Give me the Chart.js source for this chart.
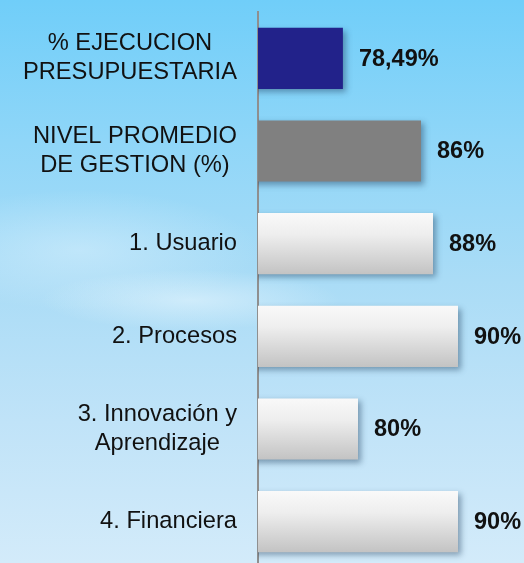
<!DOCTYPE html>
<html>
<head>
<meta charset="utf-8">
<script src="https://cdn.jsdelivr.net/npm/chart.js@4/dist/chart.umd.min.js"></script>
<style>
  html, body { margin: 0; padding: 0; overflow: hidden; }
  #wrap {
    position: relative;
    width: 524px;
    height: 563px;
    overflow: hidden;
    background:
      radial-gradient(ellipse 150px 30px at 190px 300px, rgba(235,248,255,0.55), rgba(235,248,255,0) 100%),
      radial-gradient(ellipse 180px 60px at 80px 250px, rgba(225,244,255,0.45), rgba(225,244,255,0) 100%),
      linear-gradient(180deg, #70cef9 0%, #8fd6f8 25%, #aadcf6 50%, #c0e3f8 75%, #d3ebfa 100%);
  }
  canvas { display: block; }
</style>
</head>
<body>
<div id="wrap">
  <canvas id="myChart" width="524" height="568"></canvas>
</div>
<script>
// categories, top to bottom
const categories = [
  ["% EJECUCION", "PRESUPUESTARIA"],
  ["NIVEL PROMEDIO", "DE GESTION (%)"],
  ["1. Usuario"],
  ["2. Procesos"],
  ["3. Innovación y", "Aprendizaje"],
  ["4. Financiera"]
];
// bar lengths
const values = [78.49, 86.3, 87.5, 90, 80, 90];
// printed value labels
const valueLabels = ["78,49%", "86%", "88%", "90%", "80%", "90%"];

const axisMin = 70;
const axisMax = 96.6;

function barFill(context) {
  const i = context.dataIndex;
  if (i === 0) return "#22228a";
  if (i === 1) return "#808080";
  const chart = context.chart;
  const y = chart.scales && chart.scales.y;
  if (!chart.chartArea || !y) return "#e6e6e6";
  const center = y.getPixelForValue(i);
  const half = (y.height / categories.length) * 0.66 / 2;
  const g = chart.ctx.createLinearGradient(0, center - half, 0, center + half);
  g.addColorStop(0, "#f9f9f9");
  g.addColorStop(0.35, "#eeeeee");
  g.addColorStop(1, "#c3c3c3");
  return g;
}

// soft drop shadow under the bars
const barShadow = {
  id: "barShadow",
  beforeDatasetsDraw(chart) {
    const ctx = chart.ctx;
    ctx.save();
    ctx.shadowColor = "rgba(30, 60, 90, 0.45)";
    ctx.shadowBlur = 6;
    ctx.shadowOffsetX = 3;
    ctx.shadowOffsetY = 3;
  },
  afterDatasetsDraw(chart) {
    chart.ctx.restore();
  }
};

// value labels at the end of each bar
const valueText = {
  id: "valueText",
  afterDatasetsDraw(chart) {
    const ctx = chart.ctx;
    const meta = chart.getDatasetMeta(0);
    ctx.save();
    ctx.font = "bold 23.5px 'Liberation Sans', Arial, sans-serif";
    ctx.fillStyle = "#111111";
    ctx.textAlign = "left";
    ctx.textBaseline = "middle";
    meta.data.forEach((bar, i) => {
      ctx.fillText(valueLabels[i], bar.x + 16, bar.y + 1);
    });
    ctx.restore();
  }
};

// category labels: block right-aligned, lines centered within the block
const categoryText = {
  id: "categoryText",
  afterDraw(chart) {
    const ctx = chart.ctx;
    const y = chart.scales.y;
    const right = chart.chartArea.left - 21;
    const lineH = 29;
    ctx.save();
    ctx.font = "23.7px 'Liberation Sans', Arial, sans-serif";
    ctx.fillStyle = "#111111";
    ctx.textAlign = "center";
    ctx.textBaseline = "middle";
    categories.forEach((lines, i) => {
      const w = Math.max(...lines.map(l => ctx.measureText(l).width));
      const cx = right - w / 2;
      const cy = y.getPixelForValue(i);
      const top = cy - (lines.length - 1) * lineH / 2;
      lines.forEach((l, k) => ctx.fillText(l, cx, top + k * lineH));
    });
    ctx.restore();
  }
};

const data = {
  labels: categories,
  datasets: [{
    data: values,
    backgroundColor: barFill,
    borderWidth: 0,
    categoryPercentage: 1,
    barPercentage: 0.66
  }]
};

const config = {
  type: "bar",
  data: data,
  options: {
    indexAxis: "y",
    responsive: false,
    animation: false,
    layout: {
      padding: { left: 258, top: 12, right: 0, bottom: 0 }
    },
    plugins: {
      legend: { display: false },
      tooltip: { enabled: false }
    },
    scales: {
      x: {
        display: false,
        min: axisMin,
        max: axisMax
      },
      y: {
        display: true,
        grid: { display: false, drawTicks: false },
        border: { display: true, color: "#8f8f8f", width: 2 },
        ticks: { display: false }
      }
    }
  },
  plugins: [barShadow, valueText, categoryText]
};

const myChart = new Chart(document.getElementById("myChart"), config);
</script>
</body>
</html>
